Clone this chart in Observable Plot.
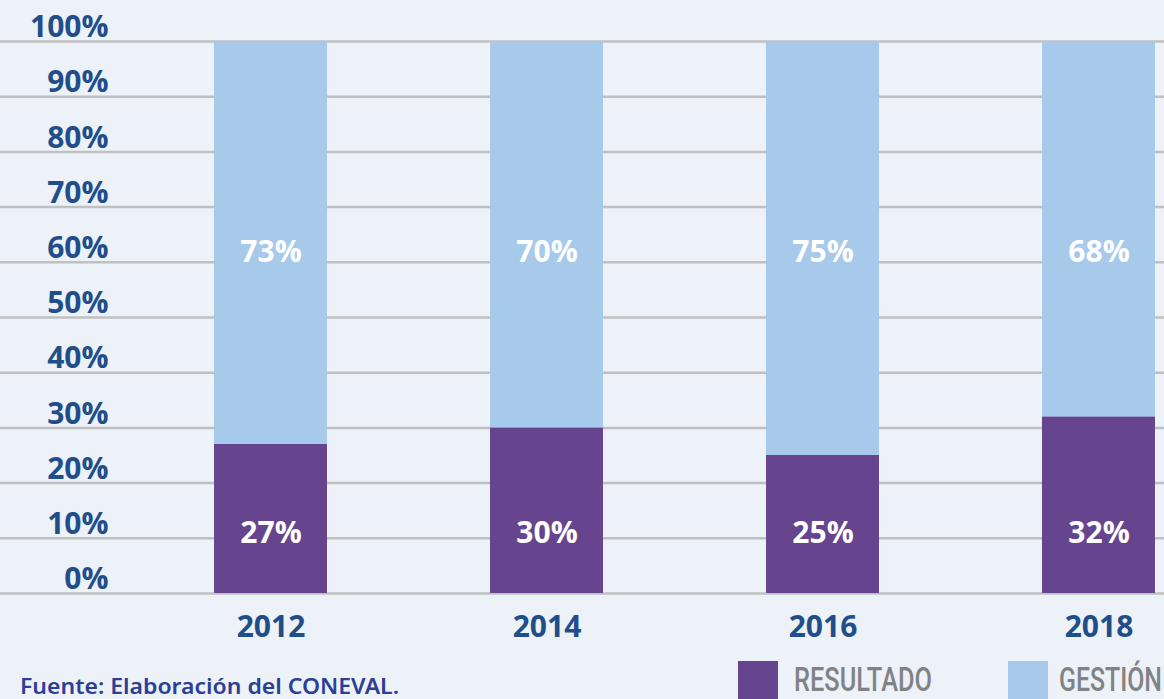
<!DOCTYPE html>
<html>
<head>
<meta charset="utf-8">
<script src="https://cdn.jsdelivr.net/npm/d3@7"></script>
<script src="https://cdn.jsdelivr.net/npm/@observablehq/plot@0.6"></script>
<style>
  html, body { margin: 0; padding: 0; background: #edf1f8; }
  #wrap { position: relative; width: 1164px; height: 699px; overflow: hidden; background: #edf1f8; }
  .caption { position: absolute; left: 20px; top: 674px; font-family: "Noto Sans", sans-serif; font-weight: 600; font-size: 22px; line-height: 23px; color: #2b3f96; white-space: nowrap; transform-origin: 0 50%; }
  .sw { position: absolute; width: 40px; height: 40px; top: 661px; }
  .lt { position: absolute; top: 661px; font-family: Roboto, sans-serif; font-weight: 500; font-size: 33px; color: #808285; white-space: nowrap; line-height: 38px; transform-origin: 0 50%; }
</style>
</head>
<body>
<div id="wrap"></div>
<script>
const years = ["2012", "2014", "2016", "2018"];
const resultado = [27, 30, 25, 32];
const gestion = [73, 70, 75, 68];
const seriesNames = ["RESULTADO", "GESTIÓN"];
const seriesColors = ["#66458e", "#a7c9ea"];
const yTicks = [0, 10, 20, 30, 40, 50, 60, 70, 80, 90, 100];
const caption = "Fuente: Elaboración del CONEVAL.";

const data = [];
years.forEach((yr, i) => {
  data.push({year: yr, series: seriesNames[0], value: resultado[i]});
  data.push({year: yr, series: seriesNames[1], value: gestion[i]});
});

const W = 1164;
const chart = Plot.plot({
  width: W,
  height: 650,
  marginTop: 41,
  marginBottom: 57,
  marginLeft: 0,
  marginRight: 0,
  style: {background: "transparent", fontFamily: "'Open Sans', sans-serif"},
  x: {domain: years, paddingInner: 0.59, paddingOuter: 0.4, align: 0.9603, label: null},
  y: {domain: [0, 100], label: null},
  color: {domain: seriesNames, range: seriesColors},
  marks: [
    Plot.ruleY(yTicks, {stroke: "#bfc0c2", strokeWidth: 2.5}),
    Plot.barY(data, Plot.stackY({x: "year", y: "value", fill: "series", order: seriesNames})),
    Plot.text(data, {
      x: "year",
      y: d => d.series === seriesNames[0] ? 10.9 : 61.8,
      text: d => d.value + "%",
      fill: "white",
      fontSize: 30,
      fontWeight: 700
    }),
    Plot.axisY(yTicks, {
      anchor: "left",
      tickSize: 0,
      tickPadding: 0,
      dx: 108,
      dy: -14,
      tickFormat: d => d + "%",
      fill: "#1f4e8a",
      fontSize: 30,
      fontWeight: 700,
      label: null
    }),
    Plot.axisX({
      tickSize: 0,
      tickPadding: 22,
      fill: "#1f4e8a",
      fontSize: 30,
      fontWeight: 700,
      label: null
    })
  ]
});

const wrap = document.getElementById("wrap");
wrap.appendChild(chart);

function fitWidth(el, target) {
  const w = el.getBoundingClientRect().width;
  if (w > 0) el.style.transform = "scaleX(" + (target / w) + ")";
}

const cap = document.createElement("div");
cap.className = "caption";
cap.textContent = caption;
wrap.appendChild(cap);
fitWidth(cap, 379);

const legendPos = [[738, 794, 138], [1008, 1059, 103]];
seriesNames.forEach((name, i) => {
  const sw = document.createElement("div");
  sw.className = "sw";
  sw.style.left = legendPos[i][0] + "px";
  sw.style.background = seriesColors[i];
  wrap.appendChild(sw);
  const t = document.createElement("div");
  t.className = "lt";
  t.style.left = legendPos[i][1] + "px";
  t.textContent = name;
  wrap.appendChild(t);
  fitWidth(t, legendPos[i][2]);
});
</script>
</body>
</html>
